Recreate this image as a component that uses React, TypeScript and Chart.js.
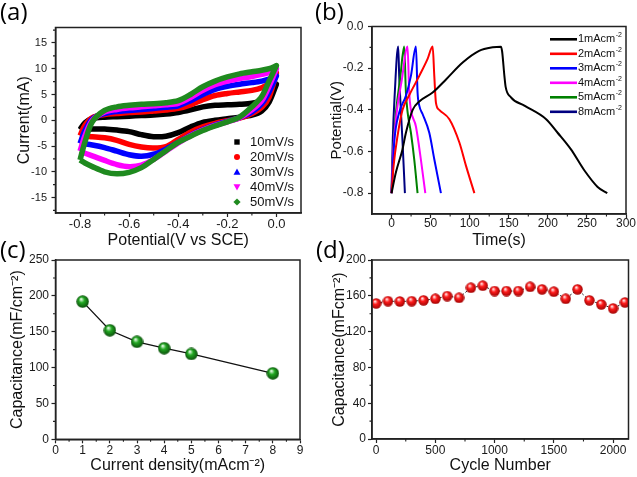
import React, { useEffect, useRef } from "react";
import { Chart, registerables } from "chart.js";

Chart.register(...registerables);

const FONT = "'Liberation Sans', Arial, Helvetica, sans-serif";

// ---------------- Panel (a): CV curves ----------------
const cvPotential = [-0.8, -0.78, -0.75, -0.7, -0.65, -0.6, -0.55, -0.5, -0.45, -0.4, -0.35, -0.3, -0.25, -0.2, -0.15, -0.1, -0.06, -0.03, 0];
const cvLabels = ["10mV/s", "20mV/s", "30mV/s", "40mV/s", "50mV/s"];
const cvColors = ["#000000", "#ff0000", "#0000ff", "#ff00ff", "#1f8a1f"];
// anodic (upper) branch, along cvPotential
const cv10Up = [-1.8, -0.5, 0.3, 0.6, 0.7, 0.8, 0.9, 1.0, 1.2, 1.5, 2.0, 2.6, 2.9, 3.0, 3.1, 3.3, 3.8, 4.8, 7.0];
const cv20Up = [-3.0, -1.0, 0.5, 1.1, 1.3, 1.5, 1.6, 1.8, 2.0, 2.3, 3.0, 4.0, 4.8, 5.2, 5.5, 5.8, 6.3, 7.2, 9.2];
const cv30Up = [-4.5, -2.0, 0.3, 1.3, 1.7, 1.9, 2.1, 2.3, 2.5, 2.8, 3.8, 5.0, 6.0, 6.6, 7.0, 7.3, 7.6, 8.0, 8.6];
const cv40Up = [-6.0, -3.0, 0.0, 1.6, 2.1, 2.4, 2.6, 2.8, 3.0, 3.3, 4.4, 5.8, 6.9, 7.6, 8.1, 8.5, 8.9, 9.3, 10.0];
const cv50Up = [-7.7, -4.2, -0.3, 1.9, 2.6, 2.9, 3.1, 3.2, 3.4, 3.8, 5.0, 6.5, 7.6, 8.4, 9.0, 9.4, 9.7, 10.0, 10.6];
// cathodic (lower) branch, along cvPotential
const cv10Down = [-1.8, -1.8, -1.7, -1.7, -1.9, -2.2, -2.8, -3.2, -3.1, -2.4, -1.3, -0.4, 0.0, 0.3, 0.6, 1.0, 1.8, 3.5, 7.0];
const cv20Down = [-3.0, -3.1, -3.2, -3.4, -3.9, -4.7, -5.2, -5.4, -5.1, -3.7, -2.3, -1.3, -0.6, -0.1, 0.4, 1.3, 2.5, 4.5, 9.2];
const cv30Down = [-4.5, -4.6, -4.8, -5.3, -6.0, -6.7, -7.0, -6.6, -5.6, -4.3, -2.9, -1.8, -0.9, -0.2, 0.5, 1.6, 3.2, 5.5, 8.6];
const cv40Down = [-6.0, -6.4, -6.9, -7.8, -8.6, -9.0, -8.7, -7.6, -6.0, -4.4, -3.0, -1.9, -1.0, -0.3, 0.5, 2.0, 3.8, 6.6, 10.0];
const cv50Down = [-7.7, -8.3, -9.0, -10.0, -10.4, -10.1, -9.2, -7.6, -5.9, -4.3, -3.1, -2.0, -1.1, -0.3, 0.6, 2.6, 4.6, 7.6, 10.6];
const cvXTicks = [-0.8, -0.6, -0.4, -0.2, 0.0];
const cvYTicks = [-15, -10, -5, 0, 5, 10, 15];

// ---------------- Panel (b): GCD curves ----------------
const gcdLabels = ["1mAcm", "2mAcm", "3mAcm", "4mAcm", "5mAcm", "8mAcm"];
const gcdColors = ["#000000", "#ff0000", "#0000ff", "#ff00ff", "#008000", "#000080"];
const gcd1T = [0, 5.6, 14, 18.4, 27, 35.5, 52.6, 70, 91, 112, 129.5, 140, 141.5, 144.4, 146, 152.8, 170, 197.8, 212.5, 229.6, 246.6, 263.7, 276];
const gcd1V = [-0.8, -0.70, -0.59, -0.51, -0.40, -0.36, -0.317, -0.253, -0.173, -0.117, -0.10, -0.097, -0.12, -0.237, -0.29, -0.34, -0.38, -0.445, -0.51, -0.59, -0.69, -0.77, -0.80];
const gcd2T = [0, 2.6, 7.7, 14.1, 22.6, 35.5, 46, 52.6, 54.7, 56.8, 61, 74, 86.8, 95.3, 106];
const gcd2V = [-0.8, -0.67, -0.525, -0.40, -0.33, -0.237, -0.157, -0.096, -0.237, -0.365, -0.40, -0.445, -0.557, -0.669, -0.80];
const gcd3T = [0, 3.4, 9.8, 18.4, 24.8, 31.2, 33.3, 35.5, 39.7, 48.3, 54.7, 63.2];
const gcd3V = [-0.8, -0.557, -0.413, -0.333, -0.237, -0.096, -0.317, -0.38, -0.42, -0.51, -0.637, -0.80];
const gcd4T = [0, 2.5, 7, 13, 20.5, 22.6, 24.8, 31.2, 37.6, 43.2];
const gcd4V = [-0.8, -0.58, -0.40, -0.26, -0.096, -0.317, -0.40, -0.48, -0.64, -0.80];
const gcd5T = [0, 2, 6, 11, 16.2, 18.4, 20.5, 24.8, 29.1, 33.3];
const gcd5V = [-0.8, -0.6, -0.40, -0.25, -0.096, -0.317, -0.41, -0.51, -0.64, -0.80];
const gcd8T = [0, 1.5, 4, 8.5, 9.8, 11.9, 14.1, 17.1];
const gcd8V = [-0.8, -0.55, -0.33, -0.096, -0.237, -0.40, -0.557, -0.80];
const gcdXTicks = [0, 50, 100, 150, 200, 250, 300];
const gcdYTicks = [-0.8, -0.6, -0.4, -0.2, 0.0];

// ---------------- Panel (c): rate capability ----------------
const cdCurrent = [1, 2, 3, 4, 5, 8];
const cdCapacitance = [192, 152, 136, 127, 119, 92];
const cdXTicks = [0, 1, 2, 3, 4, 5, 6, 7, 8, 9];
const cdYTicks = [0, 50, 100, 150, 200, 250];

// ---------------- Panel (d): cycling ----------------
const cycleNumber = [0, 100, 200, 300, 400, 500, 600, 700, 800, 900, 1000, 1100, 1200, 1300, 1400, 1500, 1600, 1700, 1800, 1900, 2000, 2100];
const cycleCapacitance = [151.5, 154, 153.7, 154, 154.9, 156.7, 159.7, 157.8, 169, 171.3, 165.3, 165.3, 165.3, 170.1, 167.2, 164.6, 156.7, 167.2, 154.9, 150.4, 145.9, 152.6];
const cyXTicks = [0, 500, 1000, 1500, 2000];
const cyYTicks = [0, 40, 80, 120, 160, 200];

function loopPoints(E: number[], up: number[], down: number[]) {
  const pts = E.map((e, i) => ({ x: e, y: up[i] }));
  for (let i = E.length - 1; i >= 0; i--) pts.push({ x: E[i], y: down[i] });
  return pts;
}
function pairPoints(xs: number[], ys: number[]) {
  return xs.map((x, i) => ({ x, y: ys[i] }));
}

function minorValues(major: number[], min: number, max: number) {
  const s = major[1] - major[0];
  const out: number[] = [];
  const cand = [major[0] - s / 2, ...major.map((m) => m + s / 2)];
  cand.forEach((v) => {
    if (v > min + 1e-9 && v < max - 1e-9) out.push(v);
  });
  return out;
}

type ScaleP = {
  axis: "x" | "y";
  min: number;
  max: number;
  ticks: number[];
  fmt: (v: number) => string;
  title: string;
  titleSize: number;
  tickSize: number;
  tickPad: number;
  size: number;
};

function scaleOpts(p: ScaleP): any {
  return {
    type: "linear",
    position: p.axis === "x" ? "bottom" : "left",
    min: p.min,
    max: p.max,
    afterBuildTicks: (s: any) => {
      s.ticks = p.ticks.map((v) => ({ value: v }));
    },
    afterFit: (s: any) => {
      if (p.axis === "x") s.height = p.size;
      else s.width = p.size;
    },
    ticks: {
      autoSkip: false,
      maxRotation: 0,
      minRotation: 0,
      padding: p.tickPad,
      color: "#1a1a1a",
      font: { family: FONT, size: p.tickSize },
      callback: (v: any) => p.fmt(Number(v)),
    },
    grid: {
      display: true,
      drawOnChartArea: false,
      drawTicks: true,
      tickLength: 4,
      tickWidth: 1.2,
      tickColor: "#222",
    },
    border: { display: true, color: "#222", width: 1.5 },
    title: {
      display: true,
      text: p.title,
      color: "#111",
      padding: 0,
      font: { family: FONT, size: p.titleSize },
    },
  };
}

function decorPlugin(xMajor: number[], yMajor: number[], legend?: (ctx: CanvasRenderingContext2D, chart: any) => void) {
  return {
    id: "decor",
    afterDraw(chart: any) {
      const ctx: CanvasRenderingContext2D = chart.ctx;
      const a = chart.chartArea;
      const xs = chart.scales.x;
      const ys = chart.scales.y;
      ctx.save();
      ctx.strokeStyle = "#222";
      ctx.lineWidth = 1.5;
      ctx.strokeRect(a.left, a.top, a.right - a.left, a.bottom - a.top);
      ctx.lineWidth = 1.1;
      ctx.beginPath();
      minorValues(xMajor, xs.min, xs.max).forEach((v) => {
        const p = xs.getPixelForValue(v);
        ctx.moveTo(p, a.bottom);
        ctx.lineTo(p, a.bottom + 2.5);
      });
      minorValues(yMajor, ys.min, ys.max).forEach((v) => {
        const p = ys.getPixelForValue(v);
        ctx.moveTo(a.left, p);
        ctx.lineTo(a.left - 2.5, p);
      });
      ctx.stroke();
      if (legend) legend(ctx, chart);
      ctx.restore();
    },
  };
}

function sphere(d: number, light: string, base: string, dark: string) {
  const c = document.createElement("canvas");
  c.width = d;
  c.height = d;
  const g = c.getContext("2d")!;
  const r = d / 2;
  const grad = g.createRadialGradient(r * 0.75, r * 0.6, r * 0.05, r, r, r);
  grad.addColorStop(0, light);
  grad.addColorStop(0.4, base);
  grad.addColorStop(1, dark);
  g.fillStyle = grad;
  g.beginPath();
  g.arc(r, r, r - 0.3, 0, Math.PI * 2);
  g.fill();
  return c;
}

function baseOptions(pad: { l: number; t: number; r: number; b: number }, x: any, y: any): any {
  return {
    responsive: false,
    animation: false,
    devicePixelRatio: 1,
    events: [],
    layout: { padding: { left: pad.l, top: pad.t, right: pad.r, bottom: pad.b } },
    plugins: { legend: { display: false }, tooltip: { enabled: false } },
    scales: { x, y },
  };
}

function drawMarker(ctx: CanvasRenderingContext2D, kind: number, x: number, y: number, color: string) {
  ctx.fillStyle = color;
  ctx.beginPath();
  if (kind === 0) {
    ctx.rect(x - 2.7, y - 2.7, 5.4, 5.4);
  } else if (kind === 1) {
    ctx.arc(x, y, 3, 0, Math.PI * 2);
  } else if (kind === 2) {
    ctx.moveTo(x, y - 3.5);
    ctx.lineTo(x + 3.5, y + 2.8);
    ctx.lineTo(x - 3.5, y + 2.8);
    ctx.closePath();
  } else if (kind === 3) {
    ctx.moveTo(x, y + 3.5);
    ctx.lineTo(x + 3.5, y - 2.8);
    ctx.lineTo(x - 3.5, y - 2.8);
    ctx.closePath();
  } else {
    ctx.moveTo(x, y - 3.6);
    ctx.lineTo(x + 3.6, y);
    ctx.lineTo(x, y + 3.6);
    ctx.lineTo(x - 3.6, y);
    ctx.closePath();
  }
  ctx.fill();
}

export default function App() {
  const refA = useRef<HTMLCanvasElement>(null);
  const refB = useRef<HTMLCanvasElement>(null);
  const refC = useRef<HTMLCanvasElement>(null);
  const refD = useRef<HTMLCanvasElement>(null);

  useEffect(() => {
    const charts: Chart[] = [];

    // ---- (a) ----
    const cvUps = [cv10Up, cv20Up, cv30Up, cv40Up, cv50Up];
    const cvDowns = [cv10Down, cv20Down, cv30Down, cv40Down, cv50Down];
    const legendA = (ctx: CanvasRenderingContext2D, chart: any) => {
      const a = chart.chartArea;
      const mx = a.right - 64;
      const tx = a.right - 51;
      ctx.font = `13px ${FONT}`;
      ctx.textBaseline = "middle";
      ctx.textAlign = "left";
      cvLabels.forEach((lab, i) => {
        const yy = a.top + 114.5 + 15 * i;
        drawMarker(ctx, i, mx, yy, cvColors[i]);
        ctx.fillStyle = "#111";
        ctx.fillText(lab, tx, yy);
      });
    };
    charts.push(
      new Chart(refA.current!, {
        type: "line",
        data: {
          datasets: cvLabels.map((lab, i) => ({
            label: lab,
            data: loopPoints(cvPotential, cvUps[i], cvDowns[i]),
            borderColor: cvColors[i],
            backgroundColor: cvColors[i],
            borderWidth: 5.5,
            borderJoinStyle: "round",
            pointRadius: 0,
            tension: 0.3,
            fill: false,
            order: cvLabels.length - 1 - i,
          })),
        },
        options: baseOptions(
          { l: 15.4, t: 27.5, r: 336, b: 226.9 },
          scaleOpts({ axis: "x", min: -0.9, max: 0.1, ticks: cvXTicks, fmt: (v) => v.toFixed(1), title: "Potential(V vs SCE)", titleSize: 16, tickSize: 13, tickPad: 0, size: 37.1 }),
          scaleOpts({ axis: "y", min: -18, max: 18, ticks: cvYTicks, fmt: (v) => String(v), title: "Current(mA)", titleSize: 16, tickSize: 11, tickPad: 4.5, size: 40.1 })
        ),
        plugins: [decorPlugin(cvXTicks, cvYTicks, legendA)],
      } as any)
    );

    // ---- (b) ----
    const gT = [gcd1T, gcd2T, gcd3T, gcd4T, gcd5T, gcd8T];
    const gV = [gcd1V, gcd2V, gcd3V, gcd4V, gcd5V, gcd8V];
    const legendB = (ctx: CanvasRenderingContext2D, chart: any) => {
      const a = chart.chartArea;
      const x0 = a.right - 76;
      const x1 = a.right - 49;
      ctx.textBaseline = "middle";
      ctx.textAlign = "left";
      gcdLabels.forEach((lab, i) => {
        const yy = a.top + 12.8 + 14.5 * i;
        ctx.strokeStyle = gcdColors[i];
        ctx.lineWidth = 2.6;
        ctx.beginPath();
        ctx.moveTo(x0, yy);
        ctx.lineTo(x1, yy);
        ctx.stroke();
        ctx.fillStyle = "#111";
        ctx.font = `11px ${FONT}`;
        ctx.fillText(lab, x1 + 1, yy);
        const w = ctx.measureText(lab).width;
        ctx.font = `7px ${FONT}`;
        ctx.fillText("-2", x1 + 1.5 + w, yy - 4);
      });
    };
    charts.push(
      new Chart(refB.current!, {
        type: "line",
        data: {
          datasets: gcdLabels.map((lab, i) => ({
            label: lab,
            data: pairPoints(gT[i], gV[i]),
            borderColor: gcdColors[i],
            backgroundColor: gcdColors[i],
            borderWidth: 2,
            pointRadius: 0,
            cubicInterpolationMode: "monotone",
            fill: false,
          })),
        },
        options: baseOptions(
          { l: 327.5, t: 26.5, r: 11, b: 226.4 },
          scaleOpts({ axis: "x", min: -25, max: 300, ticks: gcdXTicks, fmt: (v) => String(v), title: "Time(s)", titleSize: 16, tickSize: 12, tickPad: -2, size: 36.6 }),
          scaleOpts({ axis: "y", min: -0.9, max: 0, ticks: gcdYTicks, fmt: (v) => v.toFixed(1), title: "Potential(V)", titleSize: 15, tickSize: 12, tickPad: 4.5, size: 44.5 })
        ),
        plugins: [decorPlugin(gcdXTicks, gcdYTicks, legendB)],
      } as any)
    );

    // ---- (c) ----
    const greenBall = sphere(13, "#f0fff0", "#22a822", "#0a4a0a");
    charts.push(
      new Chart(refC.current!, {
        type: "line",
        data: {
          datasets: [
            {
              label: "Capacitance",
              data: pairPoints(cdCurrent, cdCapacitance),
              borderColor: "#111",
              borderWidth: 1.3,
              pointStyle: greenBall,
              pointRadius: 6.5,
              tension: 0,
              fill: false,
            },
          ],
        },
        options: baseOptions(
          { l: 7.9, t: 260, r: 337, b: 1.4 },
          scaleOpts({ axis: "x", min: 0, max: 9, ticks: cdXTicks, fmt: (v) => String(v), title: "Current density(mAcm\u207B\u00B2)", titleSize: 16, tickSize: 12, tickPad: 0, size: 36.3 }),
          scaleOpts({ axis: "y", min: 0, max: 250, ticks: cdYTicks, fmt: (v) => String(v), title: "Capacitance(mF/cm\u207B\u00B2)", titleSize: 16, tickSize: 12, tickPad: 2.5, size: 47.6 })
        ),
        plugins: [decorPlugin(cdXTicks, cdYTicks)],
      } as any)
    );

    // ---- (d) ----
    const redBall = sphere(11, "#fff4f4", "#ff1c1c", "#9a0000");
    charts.push(
      new Chart(refD.current!, {
        type: "line",
        data: {
          datasets: [
            {
              label: "Capacitance",
              data: pairPoints(cycleNumber, cycleCapacitance),
              borderColor: "#222",
              borderWidth: 1,
              borderDash: [2, 2],
              pointStyle: redBall,
              pointRadius: 5.5,
              tension: 0,
              fill: false,
            },
          ],
        },
        options: baseOptions(
          { l: 330.4, t: 260, r: 8.5, b: 1.4 },
          scaleOpts({ axis: "x", min: -35, max: 2130, ticks: cyXTicks, fmt: (v) => String(v), title: "Cycle Number", titleSize: 16, tickSize: 12, tickPad: 0.8, size: 36.6 }),
          scaleOpts({ axis: "y", min: 0, max: 200, ticks: cyYTicks, fmt: (v) => String(v), title: "Capacitance(mFcm\u207B\u00B2)", titleSize: 16, tickSize: 12, tickPad: 2, size: 41.6 })
        ),
        plugins: [decorPlugin(cyXTicks, cyYTicks)],
      } as any)
    );

    return () => charts.forEach((c) => c.destroy());
  }, []);

  const canvasStyle: React.CSSProperties = { position: "absolute", left: 0, top: 0, width: 637, height: 477 };
  const labStyle = (left: number, top: number): React.CSSProperties => ({
    position: "absolute",
    left,
    top,
    fontFamily: "'Open Sans', 'Noto Sans', sans-serif",
    fontSize: 24,
    lineHeight: 1,
    color: "#000",
  });

  return (
    <div style={{ position: "fixed", left: 0, top: 0, width: 637, height: 477, background: "#fff", overflow: "hidden" }}>
      <canvas ref={refA} width={637} height={477} style={canvasStyle} />
      <canvas ref={refB} width={637} height={477} style={canvasStyle} />
      <canvas ref={refC} width={637} height={477} style={canvasStyle} />
      <canvas ref={refD} width={637} height={477} style={canvasStyle} />
      <div style={labStyle(0, -1)}>(a)</div>
      <div style={labStyle(315, -1)}>(b)</div>
      <div style={labStyle(0, 237)}>(c)</div>
      <div style={labStyle(316, 237)}>(d)</div>
    </div>
  );
}
